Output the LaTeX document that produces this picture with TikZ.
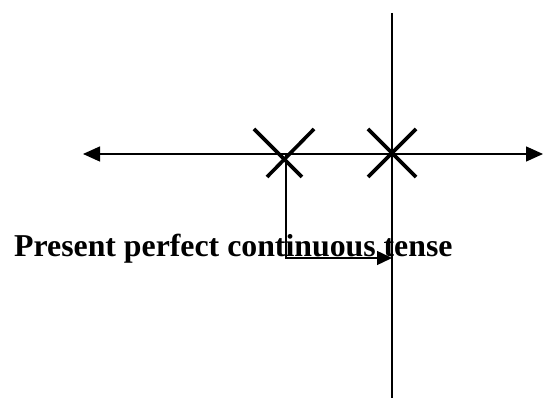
\documentclass[tikz,border=0pt]{standalone}
\usepackage{fontspec}
\setmainfont{Liberation Serif}
\usetikzlibrary{arrows.meta}
\tikzset{
  biaxis/.style={line width=1.4pt, {Triangle[length=17pt,width=15pt]}-{Triangle[length=17pt,width=15pt]}},
  cross/.style={line width=3.6pt},
  thin line/.style={line width=1.4pt},
  label/.style={font=\bfseries\fontsize{31.8}{36}\selectfont, inner sep=0pt, anchor=base west}
}
\begin{document}
\begin{tikzpicture}[x=1pt,y=1pt]
\useasboundingbox (0,0) rectangle (543,398);
\node[label] (txt) at (14,141) {Present perfect continuous tense};
% main axes
\coordinate (L) at (83,244);
\coordinate (R) at (543,244);
\coordinate (T) at (392,385);
\coordinate (B) at (392,0);
\draw[biaxis] (L) -- (R);
\draw[thin line] (T) -- (B);
% crosses
\coordinate (x1a) at (254,269);
\coordinate (x1b) at (302,221);
\coordinate (x1c) at (314,269);
\coordinate (x1d) at (267,221);
\draw[cross] (x1a) -- (x1b);
\draw[cross] (x1c) -- (x1d);
\coordinate (x2a) at (368,269);
\coordinate (x2b) at (416,221);
\coordinate (x2c) at (416,269);
\coordinate (x2d) at (368,221);
\draw[cross] (x2a) -- (x2b);
\draw[cross] (x2c) -- (x2d);
% elbow arrow
\coordinate (e0) at (286,244);
\coordinate (e1) at (286,140);
\coordinate (e2) at (392,140);
\draw[thin line, -{Triangle[length=15pt,width=14pt]}] (e0) -- (e1) -- (e2);
\end{tikzpicture}
\end{document}
